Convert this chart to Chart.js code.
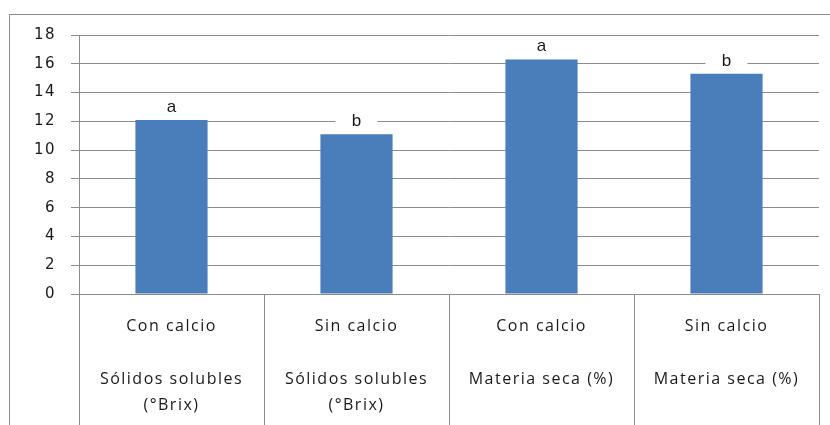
<!DOCTYPE html>
<html>
<head>
<meta charset="utf-8">
<script src="https://cdn.jsdelivr.net/npm/chart.js"></script>
<style>
    body { margin: 0; width: 830px; height: 425px; overflow: hidden; background: #fff; position: relative; }
    /* marco gris del grafico, solo se ven los bordes superior e izquierdo */
    .marco { position: absolute; left: 9px; top: 14px; width: 840px; height: 440px; border: 1px solid #8c8c8c; }
    #grafico { position: absolute; left: 10px; top: 11px; display: block; }
</style>
</head>
<body>
<div class="marco"></div>
<canvas id="grafico" width="830" height="424"></canvas>
<script>
// datos
const tratamientos = ['Con calcio', 'Sin calcio', 'Con calcio', 'Sin calcio'];
const variables = [['Sólidos solubles', '(°Brix)'], ['Sólidos solubles', '(°Brix)'], ['Materia seca (%)'], ['Materia seca (%)']];
const valores = [12.1, 11.1, 16.3, 15.3];
const letras = ['a', 'b', 'a', 'b'];
const ejeYmin = 0, ejeYmax = 18, ejeYpaso = 2;

const etiquetas = tratamientos.map((t, i) => [t, ''].concat(variables[i]));

// texto de los ejes un poco mas espaciado
const espaciadoPlugin = {
    id: 'espaciado',
    beforeDraw(chart) { chart.ctx.letterSpacing = '1.5px'; },
    beforeDatasetsDraw(chart) { chart.ctx.letterSpacing = '0px'; }
};

// letras de significancia encima de cada barra, con fondo blanco
const letrasPlugin = {
    id: 'letras',
    afterDatasetsDraw(chart) {
        const ctx = chart.ctx;
        const meta = chart.getDatasetMeta(0);
        ctx.save();
        ctx.font = '17px "Liberation Sans", Arial, sans-serif';
        ctx.textAlign = 'center';
        ctx.textBaseline = 'alphabetic';
        meta.data.forEach((barra, i) => {
            const base = barra.y - 8;
            ctx.fillStyle = '#fff';
            ctx.fillRect(barra.x - 21, base - 15, 42, 19);
            ctx.fillStyle = '#1a1a1a';
            ctx.fillText(letras[i], barra.x, base);
        });
        ctx.restore();
    }
};

new Chart(document.getElementById('grafico'), {
    type: 'bar',
    data: {
        labels: etiquetas,
        datasets: [{
            data: valores,
            backgroundColor: '#4a7ebb',
            barPercentage: 0.39,
            categoryPercentage: 1
        }]
    },
    options: {
        responsive: false,
        animation: false,
        layout: { padding: { top: 12, right: 21, bottom: 0, left: 0 } },
        plugins: { legend: { display: false }, tooltip: { enabled: false } },
        scales: {
            x: {
                grid: { offset: true, drawOnChartArea: false, drawTicks: true, tickLength: 141, color: '#8c8c8c' },
                border: { color: '#8c8c8c' },
                ticks: {
                    color: '#1a1a1a',
                    font: { family: '"Open Sans", sans-serif', size: 16, lineHeight: '26.5px' },
                    padding: -122,
                    maxRotation: 0,
                    autoSkip: false
                },
                afterFit(s) { s.height = 141; }
            },
            y: {
                min: ejeYmin,
                max: ejeYmax,
                grid: { color: '#8c8c8c', tickLength: 8 },
                border: { color: '#8c8c8c' },
                ticks: {
                    stepSize: ejeYpaso,
                    color: '#1a1a1a',
                    font: { family: '"DejaVu Sans", sans-serif', size: 15 },
                    padding: 15
                },
                afterFit(s) { s.width = 69; }
            }
        }
    },
    plugins: [espaciadoPlugin, letrasPlugin]
});
</script>
</body>
</html>
